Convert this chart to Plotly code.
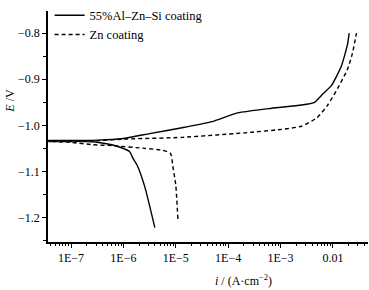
import plotly.graph_objects as go

# Al-Zn-Si coating: log10(i) and E (cathodic branch from bottom, then anodic)
alzn_logi = [-5.40, -5.59, -5.74, -5.82, -5.88, -6.05, -6.22, -6.54, -7.0, -7.44,
             -7.0, -6.5, -6.03, -5.5, -4.83, -4.31, -3.82, -3.17, -2.60, -2.35, -2.22, -2.03, -1.84, -1.72, -1.69]
alzn_E = [-1.222, -1.134, -1.086, -1.071, -1.057, -1.048, -1.042, -1.036, -1.034, -1.033,
          -1.033, -1.032, -1.029, -1.018, -1.004, -0.992, -0.973, -0.963, -0.956, -0.950, -0.935, -0.914, -0.872, -0.824, -0.800]

# Zn coating
zn_logi = [-4.96, -5.00, -5.06, -5.08, -5.11, -5.25, -5.59, -6.22, -6.58, -7.0, -7.44,
           -7.0, -6.58, -6.03, -4.87, -3.55, -2.92, -2.60, -2.30, -2.10, -1.91, -1.72, -1.63, -1.55]
zn_E = [-1.203, -1.130, -1.086, -1.067, -1.060, -1.054, -1.050, -1.044, -1.042, -1.037, -1.035,
        -1.035, -1.034, -1.030, -1.026, -1.015, -1.008, -1.002, -0.983, -0.956, -0.920, -0.878, -0.845, -0.800]

x_tickvals = [1e-7, 1e-6, 1e-5, 1e-4, 1e-3, 1e-2]
x_ticktext = ["1E\u22127", "1E\u22126", "1E\u22125", "1E\u22124", "1E\u22123", "0.01"]
y_tickvals = [-0.8, -0.9, -1.0, -1.1, -1.2]
y_ticktext = ["\u22120.8", "\u22120.9", "\u22121.0", "\u22121.1", "\u22121.2"]

FONT = "Liberation Serif"

fig = go.Figure()
fig.add_trace(go.Scatter(x=[10 ** v for v in alzn_logi], y=alzn_E, mode="lines",
                         name="55%Al\u2013Zn\u2013Si coating",
                         line=dict(color="black", width=1.4, shape="spline", smoothing=0.5)))
fig.add_trace(go.Scatter(x=[10 ** v for v in zn_logi], y=zn_E, mode="lines",
                         name="Zn coating",
                         line=dict(color="black", width=1.4, dash="4px,3px", shape="spline", smoothing=0.5)))

fig.update_layout(
    width=369, height=290,
    margin=dict(l=48, r=1, t=3, b=48),
    paper_bgcolor="white", plot_bgcolor="white",
    font=dict(family=FONT, size=12, color="black"),
    showlegend=True,
    legend=dict(x=0.005, y=1.045, xanchor="left", yanchor="top", bgcolor="rgba(0,0,0,0)",
                font=dict(size=12.5, family=FONT), tracegroupgap=0, itemwidth=30),
    xaxis=dict(type="log", range=[-7.44, -1.33], tickvals=x_tickvals, ticktext=x_ticktext,
               ticks="outside", ticklen=4, tickwidth=1, tickcolor="black",
               showline=True, linecolor="black", linewidth=1.5, showgrid=False, zeroline=False,
               minor=dict(ticks="outside", ticklen=2.5, tickcolor="black", dtick="D1", showgrid=False),
               tickfont=dict(size=12, family=FONT)),
    yaxis=dict(range=[-1.253, -0.752], tickvals=y_tickvals, ticktext=y_ticktext,
               ticks="outside", ticklen=4, tickwidth=1, tickcolor="black",
               showline=True, linecolor="black", linewidth=1.5, showgrid=False, zeroline=False,
               minor=dict(ticks="outside", ticklen=3, tickcolor="black", dtick=0.05, showgrid=False),
               tickfont=dict(size=12, family=FONT)),
)

fig.add_annotation(text="<i>E</i> /V", xref="paper", yref="paper", x=-0.12, y=0.61,
                   xanchor="center", yanchor="middle", showarrow=False, textangle=-90,
                   font=dict(size=12, family=FONT))
fig.add_annotation(text="<i>i</i> / (A\u00b7cm<sup>\u22122</sup>)", xref="paper", yref="paper",
                   x=0.61, y=-0.165, xanchor="center", yanchor="middle", showarrow=False,
                   font=dict(size=12, family=FONT))

fig.write_html("out.html", config={"displayModeBar": False},
               post_script="document.body.style.margin='0';")
